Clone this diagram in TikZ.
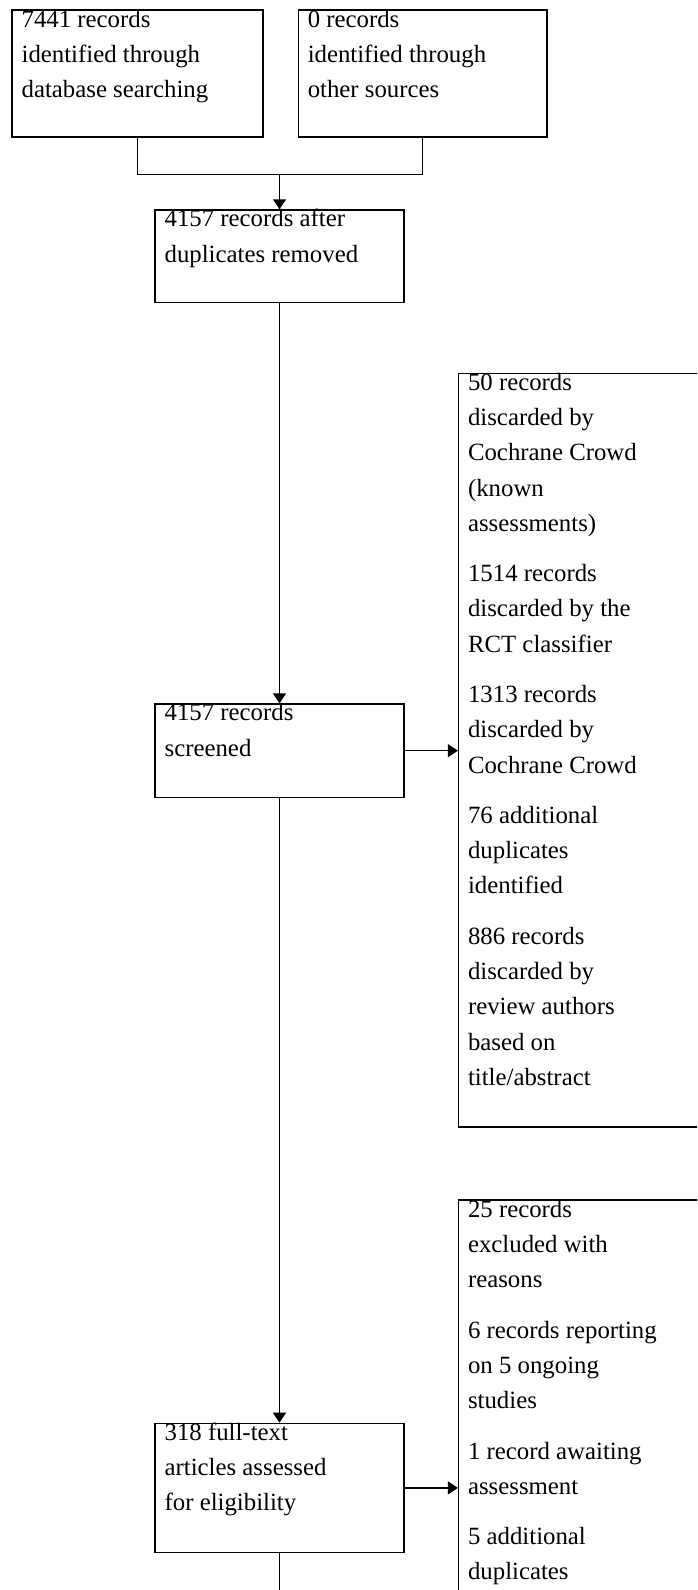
\documentclass[tikz,border=0pt]{standalone}
\usepackage{fontspec}
\setmainfont{Liberation Serif}
\usetikzlibrary{arrows.meta}

\begin{document}
\begin{tikzpicture}[x=1pt,y=-1pt,
  box/.style={draw, line width=1.5pt, inner sep=0pt},
  boxtext/.style={anchor=north west, align=left, inner sep=0pt, xshift=10pt, yshift=7.1pt,
    font=\fontsize{24.8}{35.2}\selectfont},
  link/.style={line width=1.5pt},
  arr/.style={line width=1.5pt, -{Triangle[length=10pt,width=13pt]}}]
\clip (0,0) rectangle (697,1590);

% identification
\node[box, minimum width=250.6pt, minimum height=126.9pt] (dbsearch) at (137.5,73.55) {};
\node[boxtext] (dbsearch-t) at (dbsearch.north west) {\strut 7441 records\\identified through\\database searching};
\node[box, minimum width=248.5pt, minimum height=126.9pt] (othersrc) at (422.55,73.55) {};
\node[boxtext] (othersrc-t) at (othersrc.north west) {\strut 0 records\\identified through\\other sources};

% screening
\node[box, minimum width=248.6pt, minimum height=92.3pt] (dedup) at (279.5,256.15) {};
\node[boxtext] (dedup-t) at (dedup.north west) {\strut 4157 records after\\duplicates removed};
\node[box, minimum width=248.6pt, minimum height=93.4pt] (screened) at (279.5,750.7) {};
\node[boxtext] (screened-t) at (screened.north west) {\strut 4157 records\\screened};
\node[box, minimum width=260pt, minimum height=753.8pt] (discard) at (588.6,750.3) {};
\node[boxtext] (discard-t) at (discard.north west) {\strut 50 records\\discarded by\\Cochrane Crowd\\(known\\assessments)\\[15.3pt]
  1514 records\\discarded by the\\RCT classifier\\[15.3pt]
  1313 records\\discarded by\\Cochrane Crowd\\[15.3pt]
  76 additional\\duplicates\\identified\\[15.3pt]
  886 records\\discarded by\\review authors\\based on\\title/abstract};

% eligibility
\node[box, minimum width=248.6pt, minimum height=128.9pt] (fulltext) at (279.5,1487.85) {};
\node[boxtext] (fulltext-t) at (fulltext.north west) {\strut 318 full-text\\articles assessed\\for eligibility};
\node[box, minimum width=260pt, minimum height=479.8pt] (exclude) at (588.6,1440.1) {};
\node[boxtext] (exclude-t) at (exclude.north west) {\strut 25 records\\excluded with\\reasons\\[15.3pt]
  6 records reporting\\on 5 ongoing\\studies\\[15.3pt]
  1 record awaiting\\assessment\\[15.3pt]
  5 additional\\duplicates};

\coordinate (merge) at (279.5,174.5);
\coordinate (cutoff) at (279.5,1600);

\draw[link] (dbsearch.south) |- (merge) -| (othersrc.south);
\draw[arr] (merge) -- (dedup.north);
\draw[arr] (dedup.south) -- (screened.north);
\draw[arr] (screened.east) -- (screened.east -| discard.west);
\draw[arr] (screened.south) -- (fulltext.north);
\draw[arr] (fulltext.east) -- (fulltext.east -| exclude.west);
\draw[link] (fulltext.south) -- (cutoff);

\end{tikzpicture}
\end{document}
